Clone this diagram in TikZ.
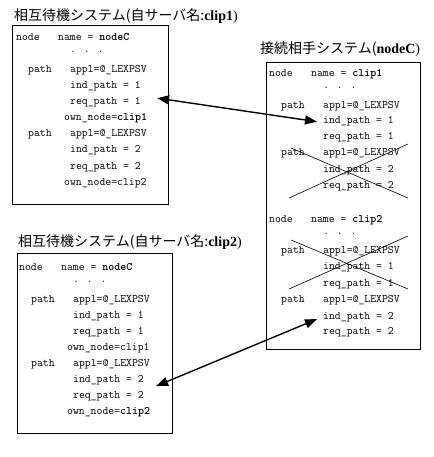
\documentclass[tikz,border=0pt]{standalone}
\usepackage{fontspec}
\setmainfont{Liberation Serif}
\newfontfamily\jpfont{Noto Sans CJK JP}
\usetikzlibrary{arrows.meta}

\tikzset{
  sysbox/.style={draw, line width=0.9pt, anchor=north west, inner sep=0pt},
  systitle/.style={anchor=base west, inner sep=0pt, font=\fontsize{14}{16}\selectfont},
  cfg/.style={anchor=base west, inner sep=0pt, font=\ttfamily\fontsize{11.43}{13}\selectfont},
  strike/.style={line width=0.6pt},
  link/.style={{Triangle[length=12pt,width=9pt]}-{Triangle[length=12pt,width=9pt]}, line width=1.4pt},
}

\begin{document}
\begin{tikzpicture}[x=1pt,y=-1pt]
  \useasboundingbox (0,0) rectangle (433,457);

  % titles
  \node[systitle] (titleA) at (14,21) {{\jpfont 相互待機システム(自サーバ名:}\textbf{clip1})};
  \node[systitle] (titleB) at (260,54) {{\jpfont 接続相手システム(}\textbf{nodeC})};
  \node[systitle] (titleC) at (18,246) {{\jpfont 相互待機システム(自サーバ名:}\textbf{clip2})};

  % frames
  \node[sysbox, minimum width=156pt, minimum height=179pt] (boxA) at (12,25) {};
  \node[sysbox, minimum width=154pt, minimum height=287pt] (boxB) at (266,62) {};
  \node[sysbox, minimum width=155pt, minimum height=180pt] (boxC) at (17,253) {};

  % clip1 definition
  \foreach \n/\y/\c/\t in {node/41/0/node, name/41/7/{name = \textbf{nodeC}}, dots/53/9/{. . .},
      path1/73/2/path, appl1/73/9/appl=@\_LEXPSV, ind1/89/9/ind\_path = 1, req1/105/9/req\_path = 1,
      own1/121/8/{own\_node=\textbf{clip1}},
      path2/137/2/path, appl2/137/9/appl=@\_LEXPSV, ind2/153/9/ind\_path = 2, req2/169/9/req\_path = 2,
      own2/185/8/own\_node=clip2}
    \node[cfg] (a-\n) at (16+\c*6,\y) {\t};

  % nodeC definition
  \foreach \n/\y/\c/\t in {node1/77/0/node, name1/77/7/{name = \textbf{clip1}}, dots1/89/9/{. . .},
      path1/109/2/path, appl1/109/9/appl=@\_LEXPSV, ind1/124/9/ind\_path = 1, req1/140/9/req\_path = 1,
      path2/156/2/path, appl2/156/9/appl=@\_LEXPSV, ind2/172/9/ind\_path = 2, req2/188/9/req\_path = 2,
      node2/222/0/node, name2/222/7/{name = \textbf{clip2}}, dots2/234/9/{. . .},
      path3/253/2/path, appl3/253/9/appl=@\_LEXPSV, ind3/269/9/ind\_path = 1, req3/286/9/req\_path = 1,
      path4/302/2/path, appl4/302/9/appl=@\_LEXPSV, ind4/319/9/ind\_path = 2, req4/334/9/req\_path = 2}
    \node[cfg] (b-\n) at (269+\c*6,\y) {\t};

  % clip2 definition
  \foreach \n/\y/\c/\t in {node/270/0/node, name/270/7/{name = \textbf{nodeC}}, dots/282/9/{. . .},
      path1/302/2/path, appl1/302/9/appl=@\_LEXPSV, ind1/318/9/ind\_path = 1, req1/334/9/req\_path = 1,
      own1/350/8/own\_node=clip1,
      path2/366/2/path, appl2/366/9/appl=@\_LEXPSV, ind2/382/9/ind\_path = 2, req2/398/9/req\_path = 2,
      own2/414/8/{own\_node=\textbf{clip2}}}
    \node[cfg] (c-\n) at (19+\c*6,\y) {\t};

  % unused paths
  \draw[strike] (291,148) -- (408,198);
  \draw[strike] (289,198) -- (408,144);
  \draw[strike] (291,240) -- (408,289);
  \draw[strike] (289,289) -- (408,236);

  % links
  \draw[link] ([xshift=16pt,yshift=4.6pt]a-req1.east) -- ([xshift=-6pt]b-ind1.west);
  \draw[link] ([xshift=12pt,yshift=-6.4pt]c-ind2.east) -- ([xshift=-6pt,yshift=-2.4pt]b-ind4.west);
\end{tikzpicture}
\end{document}
